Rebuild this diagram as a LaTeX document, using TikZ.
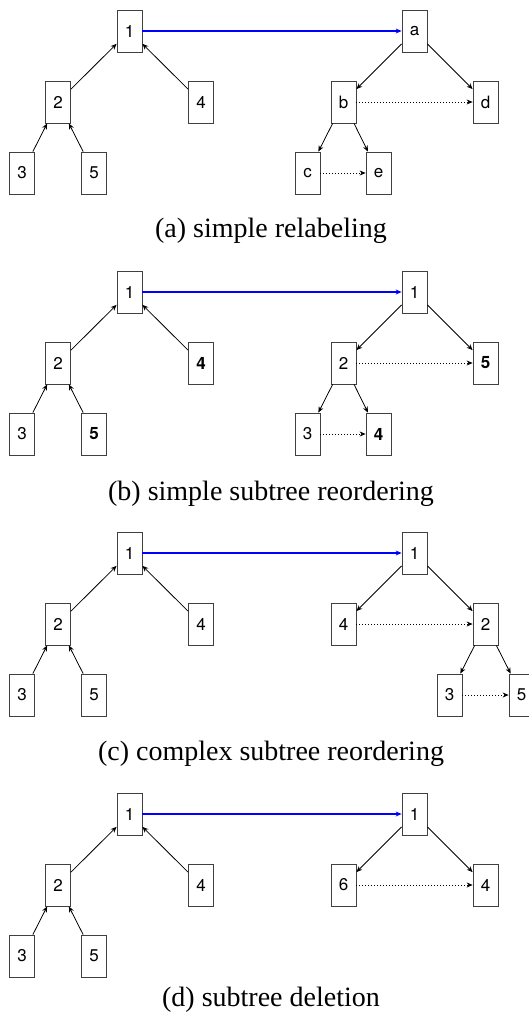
\documentclass[tikz,border=0pt]{standalone}
\usepackage{fontspec}
\setmainfont{Liberation Serif}
\setsansfont{TeX Gyre Heros}
\usetikzlibrary{arrows.meta}

\tikzset{
  treenode/.style={draw=black!75, line width=0.8pt, minimum width=25pt, minimum height=42pt,
    inner sep=0pt, font=\sffamily\fontsize{17}{17}\selectfont},
  edge/.style={-{Stealth[length=6pt,width=5pt]}, line width=0.8pt},
  match/.style={edge, draw=blue, fill=blue, line width=1.1pt},
  sibling/.style={edge, line width=0.7pt, dash pattern=on 0.8pt off 2.2pt},
  caption/.style={font=\fontsize{28}{30}\selectfont}
}

\begin{document}
\begin{tikzpicture}[x=1pt, y=-1pt]
    \useasboundingbox (0,0) rectangle (529,1014);

    % Linker boom, in elk paneel dezelfde
    \foreach \p/\dy/\four/\five in {a/0/4/5, b/261/{\textbf{4}}/{\textbf{5}}, c/522/4/5, d/783/4/5} {
        \node[treenode] (\p-1) at (129.5, {31+\dy}) {1};
        \node[treenode] (\p-2) at (58, {102+\dy}) {2};
        \node[treenode] (\p-4) at (201, {102+\dy}) {\four};
        \node[treenode] (\p-3) at (22, {173+\dy}) {3};
        \node[treenode] (\p-5) at (94, {173+\dy}) {\five};
        \draw[edge] (\p-2) -- (\p-1);
        \draw[edge] (\p-4) -- (\p-1);
        \draw[edge] (\p-3) -- (\p-2);
        \draw[edge] (\p-5) -- (\p-2);
    }

    % (a) hernoemen
    \node[treenode] (ra) at (414.5, 31) {a};
    \node[treenode] (rb) at (343.5, 102) {b};
    \node[treenode] (rd) at (485.5, 102) {d};
    \node[treenode] (rc) at (307.5, 173) {c};
    \node[treenode] (re) at (378.5, 173) {e};
    \draw[edge] (ra) -- (rb);
    \draw[edge] (ra) -- (rd);
    \draw[edge] (rb) -- (rc);
    \draw[edge] (rb) -- (re);
    \draw[sibling] (rb) -- (rd);
    \draw[sibling] (rc) -- (re);
    \draw[match] (a-1) -- (ra);
    \node[caption] (capa) at (271, 231) {(a) simple relabeling};

    % (b) eenvoudig herordenen
    \node[treenode] (sb1) at (414.5, 292) {1};
    \node[treenode] (sb2) at (343.5, 363) {2};
    \node[treenode] (sb5) at (485.5, 363) {\textbf{5}};
    \node[treenode] (sb3) at (307.5, 434) {3};
    \node[treenode] (sb4) at (378.5, 434) {\textbf{4}};
    \draw[edge] (sb1) -- (sb2);
    \draw[edge] (sb1) -- (sb5);
    \draw[edge] (sb2) -- (sb3);
    \draw[edge] (sb2) -- (sb4);
    \draw[sibling] (sb2) -- (sb5);
    \draw[sibling] (sb3) -- (sb4);
    \draw[match] (b-1) -- (sb1);
    \node[caption] (capb) at (271, 494) {(b) simple subtree reordering};

    % (c) complex herordenen
    \node[treenode] (sc1) at (414.5, 553) {1};
    \node[treenode] (sc4) at (343.5, 624) {4};
    \node[treenode] (sc2) at (485.5, 624) {2};
    \node[treenode] (sc3) at (449.5, 695) {3};
    \node[treenode] (sc5) at (521.5, 695) {5};
    \draw[edge] (sc1) -- (sc4);
    \draw[edge] (sc1) -- (sc2);
    \draw[edge] (sc2) -- (sc3);
    \draw[edge] (sc2) -- (sc5);
    \draw[sibling] (sc4) -- (sc2);
    \draw[sibling] (sc3) -- (sc5);
    \draw[match] (c-1) -- (sc1);
    \node[caption] (capc) at (271, 754) {(c) complex subtree reordering};

    % (d) verwijderen
    \node[treenode] (sd1) at (414.5, 814) {1};
    \node[treenode] (sd6) at (343.5, 885) {6};
    \node[treenode] (sd4) at (485.5, 885) {4};
    \draw[edge] (sd1) -- (sd6);
    \draw[edge] (sd1) -- (sd4);
    \draw[sibling] (sd6) -- (sd4);
    \draw[match] (d-1) -- (sd1);
    \node[caption] (capd) at (271, 1000) {(d) subtree deletion};
\end{tikzpicture}
\end{document}
